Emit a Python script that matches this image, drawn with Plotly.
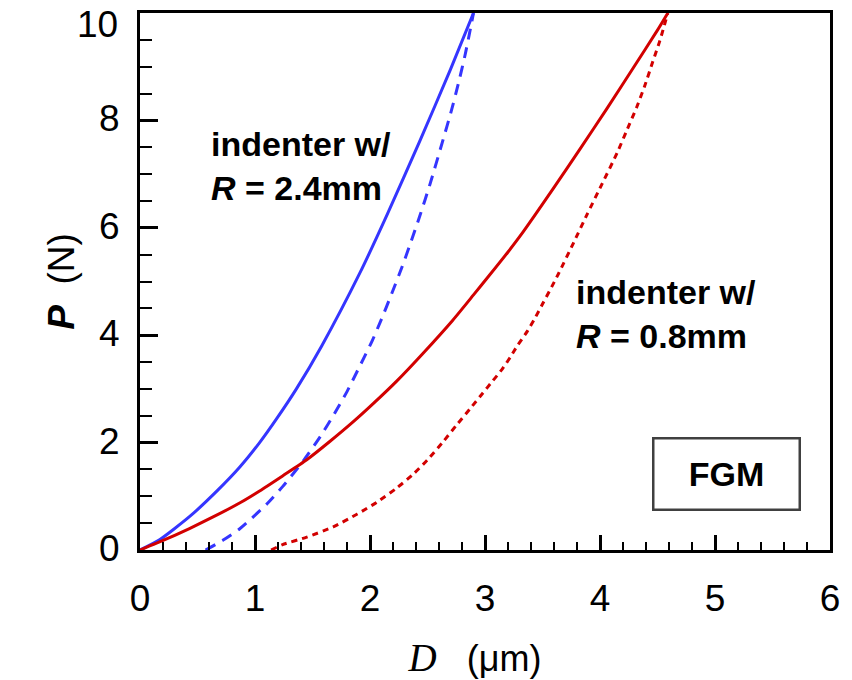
import plotly.graph_objects as go

# Loading / unloading curves, R = 2.4 mm (blue)
d_blue_load = [0, 0.17, 0.43, 0.67, 0.87, 1.04, 1.19, 1.36, 1.58, 1.91, 2.15, 2.43, 2.70, 2.90]
p_blue_load = [0, 0.19, 0.62, 1.10, 1.55, 2.00, 2.45, 3.00, 3.80, 5.15, 6.25, 7.60, 8.95, 10.0]

d_blue_unload = [0.57, 0.72, 0.87, 1.10, 1.24, 1.42, 1.57, 1.68, 1.80, 1.91, 2.02, 2.10, 2.19,
                 2.28, 2.35, 2.43, 2.52, 2.63, 2.71, 2.77, 2.83, 2.90]
p_blue_unload = [0.0, 0.18, 0.40, 0.85, 1.18, 1.66, 2.12, 2.50, 2.95, 3.42, 3.90, 4.30, 4.78,
                 5.28, 5.70, 6.20, 6.80, 7.60, 8.20, 8.70, 9.25, 10.0]

# Loading / unloading curves, R = 0.8 mm (red)
d_red_load = [0, 0.17, 0.43, 0.64, 0.87, 1.04, 1.24, 1.45, 1.65, 1.85, 2.03, 2.23, 2.46,
              2.72, 2.90, 3.04, 3.20, 3.33, 3.59, 3.83, 4.06, 4.29, 4.50, 4.59]
p_red_load = [0, 0.15, 0.40, 0.62, 0.88, 1.10, 1.38, 1.68, 2.02, 2.38, 2.73, 3.14, 3.66,
              4.28, 4.75, 5.12, 5.55, 5.92, 6.72, 7.48, 8.22, 8.98, 9.68, 10.0]

d_red_unload = [1.14, 1.24, 1.45, 1.68, 1.89, 2.06, 2.23, 2.37, 2.50, 2.63, 2.75, 2.87, 2.98,
                3.06, 3.15, 3.22, 3.28, 3.37, 3.43, 3.50, 3.58, 3.64, 3.77, 3.89, 4.00,
                4.15, 4.23, 4.32, 4.39, 4.46, 4.52, 4.59]
p_red_unload = [0.0, 0.10, 0.24, 0.43, 0.67, 0.89, 1.15, 1.40, 1.68, 2.00, 2.32, 2.63, 2.92,
                3.13, 3.37, 3.59, 3.80, 4.08, 4.30, 4.58, 4.90, 5.15, 5.72, 6.26, 6.74,
                7.40, 7.80, 8.25, 8.65, 9.10, 9.48, 10.0]

x_ticks = [0, 1, 2, 3, 4, 5, 6]
y_ticks = [0, 2, 4, 6, 8, 10]

BLUE = "#3535ff"
RED = "#d20000"

fig = go.Figure()
fig.add_trace(go.Scatter(x=d_blue_load, y=p_blue_load, mode="lines",
                         line=dict(color=BLUE, width=3, shape="spline", smoothing=0.6),
                         showlegend=False))
fig.add_trace(go.Scatter(x=d_blue_unload, y=p_blue_unload, mode="lines",
                         line=dict(color=BLUE, width=3, dash="11px,8px", shape="spline",
                                   smoothing=0.6),
                         showlegend=False))
fig.add_trace(go.Scatter(x=d_red_load, y=p_red_load, mode="lines",
                         line=dict(color=RED, width=3, shape="spline", smoothing=0.6),
                         showlegend=False))
fig.add_trace(go.Scatter(x=d_red_unload, y=p_red_unload, mode="lines",
                         line=dict(color=RED, width=3, dash="6px,5px", shape="spline",
                                   smoothing=0.6),
                         showlegend=False))

font_main = "Liberation Sans, Arial, sans-serif"

# top y label is drawn as an annotation so it sits fully inside the page
y_ticktext = [str(v) for v in y_ticks[:-1]] + [""]

fig.update_layout(
    width=852, height=680,
    margin=dict(l=140, r=22, t=13, b=130),
    plot_bgcolor="white", paper_bgcolor="white",
    font=dict(family=font_main, color="black"),
    xaxis=dict(
        range=[0, 6], tickvals=x_ticks, ticktext=[str(v) for v in x_ticks],
        showgrid=False, zeroline=False, automargin=False,
        showline=True, linecolor="black", linewidth=3, mirror=True,
        ticks="inside", ticklen=15, tickwidth=3, tickcolor="black",
        tickfont=dict(size=37, family=font_main, color="black"),
        ticklabelstandoff=14, ticklabeloverflow="allow",
        minor=dict(dtick=0.2, ticks="inside", ticklen=8, tickwidth=2,
                   tickcolor="black", showgrid=False),
        title=dict(
            text="<i><span style='font-family:Liberation Serif, serif;font-size:39px'>D</span></i>&nbsp;&nbsp;&nbsp;(μm)&nbsp;&nbsp;",
            font=dict(size=36, family=font_main, color="black"), standoff=28),
    ),
    yaxis=dict(
        range=[0, 10], tickvals=y_ticks, ticktext=y_ticktext,
        showgrid=False, zeroline=False, automargin=False,
        showline=True, linecolor="black", linewidth=3, mirror=True,
        ticks="inside", ticklen=18, tickwidth=3, tickcolor="black",
        tickfont=dict(size=37, family=font_main, color="black"),
        ticklabelstandoff=10, ticklabeloverflow="allow", ticklabelshift=-2,
        minor=dict(dtick=0.5, ticks="inside", ticklen=12, tickwidth=2,
                   tickcolor="black", showgrid=False),
        title=dict(text="<b><i>P</i></b>&nbsp;&nbsp;(N)",
                   font=dict(size=37, family=font_main, color="black"), standoff=14),
    ),
)

fig.add_annotation(x=0, y=y_ticks[-1], xref="paper", yref="y",
                   text=str(y_ticks[-1]), showarrow=False,
                   xanchor="right", yanchor="middle", xshift=-20, yshift=-11,
                   font=dict(size=37, family=font_main, color="black"))

fig.add_annotation(x=0.60, y=7.15, xref="x", yref="y",
                   text="<b>indenter w/<br><i>R</i> = 2.4mm</b>",
                   showarrow=False, xanchor="left", yanchor="middle", align="left",
                   font=dict(size=34, family=font_main, color="black"))
fig.add_annotation(x=3.77, y=4.40, xref="x", yref="y",
                   text="<b>indenter w/<br><i>R</i> = 0.8mm</b>",
                   showarrow=False, xanchor="left", yanchor="middle", align="left",
                   font=dict(size=34, family=font_main, color="black"))
fig.add_annotation(x=5.096, y=1.41, xref="x", yref="y",
                   text="<b>FGM</b>", showarrow=False,
                   width=144, height=69, borderpad=0, borderwidth=2.5,
                   bordercolor="#404040", bgcolor="white",
                   font=dict(size=34, family=font_main, color="black"))

fig.write_html("out.html", config={"displayModeBar": False},
               post_script="document.body.style.margin='0';")
